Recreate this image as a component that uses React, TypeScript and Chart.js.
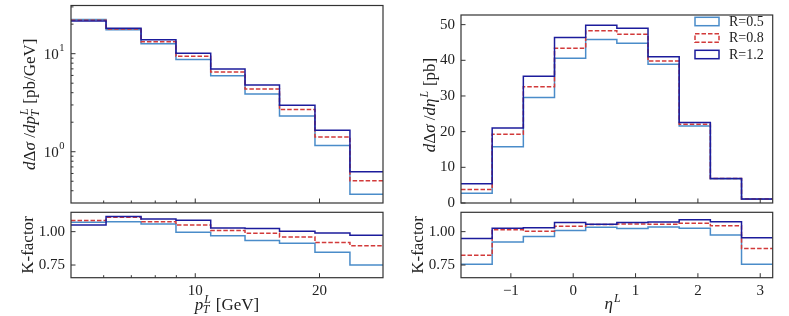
import React, { useEffect, useRef } from "react";
import { Chart, registerables } from "chart.js";

Chart.register(...registerables);

const W = 789;
const H = 316;

// ---------------- data ----------------
// transverse momentum bins (log-spaced), GeV
const ptEdges = [5.0, 6.08, 7.39, 8.98, 10.9, 13.2, 16.0, 19.5, 23.7, 28.5];
const ptXsecR05 = [22.3, 17.5, 12.6, 8.7, 5.97, 3.88, 2.32, 1.16, 0.369];
const ptXsecR08 = [21.9, 17.8, 13.2, 9.4, 6.5, 4.37, 2.69, 1.41, 0.507];
const ptXsecR12 = [21.5, 18.2, 13.9, 10.1, 6.97, 4.8, 2.98, 1.66, 0.625];
const ptKR05 = [1.07, 1.075, 1.058, 0.995, 0.97, 0.933, 0.913, 0.845, 0.75];
const ptKR08 = [1.083, 1.108, 1.075, 1.05, 1.008, 0.988, 0.96, 0.918, 0.895];
const ptKR12 = [1.05, 1.113, 1.095, 1.085, 1.028, 1.023, 1.003, 0.99, 0.973];

// pseudorapidity bins
const etaEdges = [-1.8, -1.3, -0.8, -0.3, 0.2, 0.7, 1.2, 1.7, 2.2, 2.7, 3.2];
const etaXsecR05 = [2.7, 15.8, 29.6, 40.6, 45.8, 44.8, 38.9, 21.6, 6.8, 1.05];
const etaXsecR08 = [3.8, 19.3, 32.6, 43.4, 48.3, 47.3, 39.8, 22.1, 6.85, 1.1];
const etaXsecR12 = [5.4, 21.05, 35.5, 46.4, 49.8, 49.0, 41.0, 22.6, 6.9, 1.15];
const etaKR05 = [0.755, 0.923, 0.963, 1.008, 1.033, 1.023, 1.035, 1.025, 0.975, 0.755];
const etaKR08 = [0.823, 1.015, 1.003, 1.04, 1.053, 1.058, 1.055, 1.063, 1.045, 0.873];
const etaKR12 = [0.948, 1.025, 1.03, 1.068, 1.055, 1.068, 1.073, 1.09, 1.075, 0.955];

const seriesLabels = ["R=0.5", "R=0.8", "R=1.2"];

// ticks
const ptMajorTicks = [10, 20];
const ptMinorTicks = [6, 7, 8, 9];
const xsecMajorTicks = [1, 10];
const xsecMinorTicks = [0.3, 0.4, 0.5, 0.6, 0.7, 0.8, 0.9, 2, 3, 4, 5, 6, 7, 8, 9, 20, 30];
const etaTicks = [-1, 0, 1, 2, 3];
const etaXsecTicks = [0, 10, 20, 30, 40, 50];
const kTicks = [0.75, 1.0];

// ---------------- style ----------------
const FONT = '"Liberation Serif", "DejaVu Serif", serif';
const TEXT = "#222222";
const COLORS = ["#4a8cc9", "#d23a3a", "#1c1c9c"];
const DASHES = [[], [4.5, 2], []];
const TICK_SIZE = 15;
const TITLE_SIZE = 17;

type Part = { t: string; it?: boolean; sub?: string; sup?: string };

function drawRich(ctx: CanvasRenderingContext2D, parts: Part[], x: number, y: number, size: number, rotate: boolean) {
  const f = (it: boolean, sz: number) => `${it ? "italic " : ""}${sz}px ${FONT}`;
  const ss = size * 0.7;
  const widths = parts.map((p) => {
    ctx.font = f(!!p.it, size);
    const w = ctx.measureText(p.t).width;
    ctx.font = f(true, ss);
    const w2 = Math.max(p.sub ? ctx.measureText(p.sub).width : 0, p.sup ? ctx.measureText(p.sup).width : 0);
    return [w, w2 ? w2 + 1.5 : 0];
  });
  const total = widths.reduce((s, [a, b]) => s + a + b, 0);
  ctx.save();
  ctx.translate(x, y);
  if (rotate) ctx.rotate(-Math.PI / 2);
  ctx.fillStyle = TEXT;
  ctx.textBaseline = "alphabetic";
  ctx.textAlign = "left";
  let cx = -total / 2;
  parts.forEach((p, i) => {
    ctx.font = f(!!p.it, size);
    ctx.fillText(p.t, cx, 0);
    cx += widths[i][0];
    if (p.sub || p.sup) {
      ctx.font = f(true, ss);
      if (p.sup) ctx.fillText(p.sup, cx + 1, -size * 0.4);
      if (p.sub) ctx.fillText(p.sub, cx - 0.5, size * 0.22);
      cx += widths[i][1];
    }
  });
  ctx.restore();
}

type Area = { l: number; t: number; r: number; b: number };
type Spec = {
  id: string;
  area: Area;
  xType: "linear" | "logarithmic";
  xMin: number;
  xMax: number;
  yType: "linear" | "logarithmic";
  yMin: number;
  yMax: number;
  edges: number[];
  series: number[][];
  xMajor: number[];
  xMinor: number[];
  yMajor: number[];
  yMinor: number[];
  xLabels: boolean;
  yLabels: boolean;
  xFmt?: (v: number) => string;
  yFmt?: (v: number) => string;
  extra?: (ctx: CanvasRenderingContext2D, chart: any) => void;
};

const leftTop: Area = { l: 71, t: 5.5, r: 383, b: 203 };
const leftBot: Area = { l: 71, t: 212.3, r: 383, b: 277.7 };
const rightTop: Area = { l: 461, t: 5.5, r: 772.7, b: 203 };
const rightBot: Area = { l: 461, t: 212.3, r: 772.7, b: 277.7 };

const etaFmt = (v: number) => (v < 0 ? "\u2212" + Math.abs(v) : String(v));

const specs: Spec[] = [
  {
    id: "ptx",
    area: leftTop,
    xType: "logarithmic",
    xMin: ptEdges[0],
    xMax: ptEdges[ptEdges.length - 1],
    yType: "logarithmic",
    yMin: 0.3,
    yMax: 31,
    edges: ptEdges,
    series: [ptXsecR05, ptXsecR08, ptXsecR12],
    xMajor: ptMajorTicks,
    xMinor: ptMinorTicks,
    yMajor: xsecMajorTicks,
    yMinor: xsecMinorTicks,
    xLabels: false,
    yLabels: false,
    extra: (ctx, chart) => {
      const ys = chart.scales.y;
      const a = chart.chartArea;
      ctx.fillStyle = TEXT;
      ctx.textAlign = "left";
      ctx.textBaseline = "middle";
      for (const v of xsecMajorTicks) {
        const py = ys.getPixelForValue(v);
        const exp = String(Math.round(Math.log10(v)));
        ctx.font = `10.5px ${FONT}`;
        const ew = ctx.measureText(exp).width;
        ctx.font = `${TICK_SIZE}px ${FONT}`;
        const bw = ctx.measureText("10").width;
        const xr = a.left - 7;
        ctx.fillText("10", xr - ew - bw, py + 1);
        ctx.font = `10.5px ${FONT}`;
        ctx.fillText(exp, xr - ew + 0.5, py - 5);
      }
      drawRich(
        ctx,
        [
          { t: "d", it: true },
          { t: "\u0394" },
          { t: "\u03c3", it: true },
          { t: " /" },
          { t: "dp", it: true, sub: "T", sup: "L" },
          { t: " [pb/GeV]" },
        ],
        35,
        (a.top + a.bottom) / 2,
        TITLE_SIZE,
        true
      );
    },
  },
  {
    id: "ptk",
    area: leftBot,
    xType: "logarithmic",
    xMin: ptEdges[0],
    xMax: ptEdges[ptEdges.length - 1],
    yType: "linear",
    yMin: 0.655,
    yMax: 1.145,
    edges: ptEdges,
    series: [ptKR05, ptKR08, ptKR12],
    xMajor: ptMajorTicks,
    xMinor: ptMinorTicks,
    yMajor: kTicks,
    yMinor: [],
    xLabels: true,
    yLabels: true,
    xFmt: (v) => String(v),
    yFmt: (v) => v.toFixed(2),
    extra: (ctx, chart) => {
      const a = chart.chartArea;
      drawRich(ctx, [{ t: "K-factor" }], 33, (a.top + a.bottom) / 2, TITLE_SIZE, true);
      drawRich(ctx, [{ t: "p", it: true, sub: "T", sup: "L" }, { t: " [GeV]" }], (a.left + a.right) / 2, 309.5, TITLE_SIZE, false);
    },
  },
  {
    id: "etax",
    area: rightTop,
    xType: "linear",
    xMin: etaEdges[0],
    xMax: etaEdges[etaEdges.length - 1],
    yType: "linear",
    yMin: 0,
    yMax: 52.7,
    edges: etaEdges,
    series: [etaXsecR05, etaXsecR08, etaXsecR12],
    xMajor: etaTicks,
    xMinor: [],
    yMajor: etaXsecTicks,
    yMinor: [],
    xLabels: false,
    yLabels: true,
    yFmt: (v) => String(v),
    extra: (ctx, chart) => {
      const a = chart.chartArea;
      drawRich(
        ctx,
        [
          { t: "d", it: true },
          { t: "\u0394" },
          { t: "\u03c3", it: true },
          { t: " /" },
          { t: "d\u03b7", it: true, sup: "L" },
          { t: " [pb]" },
        ],
        435,
        (a.top + a.bottom) / 2 - 4,
        TITLE_SIZE,
        true
      );
      // legend
      const rows = [21.5, 38, 54.5];
      seriesLabels.forEach((lab, k) => {
        ctx.save();
        ctx.strokeStyle = COLORS[k];
        ctx.lineWidth = 1.5;
        ctx.setLineDash(DASHES[k]);
        ctx.strokeRect(695, rows[k] - 4.2, 24, 8.4);
        ctx.restore();
        ctx.fillStyle = TEXT;
        ctx.font = `14px ${FONT}`;
        ctx.textAlign = "left";
        ctx.textBaseline = "middle";
        ctx.fillText(lab, 729, rows[k] + 0.5);
      });
    },
  },
  {
    id: "etak",
    area: rightBot,
    xType: "linear",
    xMin: etaEdges[0],
    xMax: etaEdges[etaEdges.length - 1],
    yType: "linear",
    yMin: 0.655,
    yMax: 1.145,
    edges: etaEdges,
    series: [etaKR05, etaKR08, etaKR12],
    xMajor: etaTicks,
    xMinor: [],
    yMajor: kTicks,
    yMinor: [],
    xLabels: true,
    yLabels: true,
    xFmt: etaFmt,
    yFmt: (v) => v.toFixed(2),
    extra: (ctx, chart) => {
      const a = chart.chartArea;
      drawRich(ctx, [{ t: "K-factor" }], 423, (a.top + a.bottom) / 2, TITLE_SIZE, true);
      drawRich(ctx, [{ t: "\u03b7", it: true, sup: "L" }], (a.left + a.right) / 2 - 4, 309, TITLE_SIZE, false);
    },
  },
];

function framePlugin(s: Spec) {
  return {
    id: "frame_" + s.id,
    afterDraw(chart: any) {
      const { ctx, chartArea: a, scales } = chart;
      const xs = scales.x;
      const ys = scales.y;
      ctx.save();
      ctx.strokeStyle = "#333333";
      ctx.lineWidth = 1;
      const line = (x1: number, y1: number, x2: number, y2: number) => {
        ctx.beginPath();
        ctx.moveTo(x1, y1);
        ctx.lineTo(x2, y2);
        ctx.stroke();
      };
      s.xMajor.forEach((v) => {
        const px = xs.getPixelForValue(v);
        line(px, a.bottom, px, a.bottom - 4.5);
      });
      s.xMinor.forEach((v) => {
        const px = xs.getPixelForValue(v);
        line(px, a.bottom, px, a.bottom - 2.5);
      });
      s.yMajor.forEach((v) => {
        const py = ys.getPixelForValue(v);
        line(a.left, py, a.left + 4.5, py);
      });
      s.yMinor.forEach((v) => {
        const py = ys.getPixelForValue(v);
        if (py > a.top && py < a.bottom) line(a.left, py, a.left + 2.5, py);
      });
      ctx.lineWidth = 1.2;
      ctx.strokeRect(a.left, a.top, a.right - a.left, a.bottom - a.top);
      ctx.restore();
      ctx.save();
      if (s.extra) s.extra(ctx, chart);
      ctx.restore();
    },
  };
}

function buildConfig(s: Spec): any {
  const yW = 40;
  const xH = s.xLabels ? 22 : 0;
  const tickFont = { family: FONT, size: TICK_SIZE };
  return {
    type: "line",
    data: {
      datasets: s.series.map((vals, k) => ({
        label: seriesLabels[k],
        data: s.edges.map((e, i) => ({ x: e, y: vals[Math.min(i, vals.length - 1)] })),
        borderColor: COLORS[k],
        borderWidth: 1.5,
        borderDash: DASHES[k],
        pointRadius: 0,
        stepped: "before",
        fill: false,
        order: 3 - k,
      })),
    },
    options: {
      animation: false,
      responsive: false,
      devicePixelRatio: 1,
      events: [],
      layout: {
        autoPadding: false,
        padding: { left: s.area.l - yW, top: s.area.t, right: W - s.area.r, bottom: H - s.area.b - xH },
      },
      plugins: { legend: { display: false }, tooltip: { enabled: false } },
      scales: {
        x: {
          type: s.xType,
          min: s.xMin,
          max: s.xMax,
          grid: { display: false, drawTicks: false },
          border: { display: false },
          afterBuildTicks: (sc: any) => {
            sc.ticks = s.xMajor.map((v) => ({ value: v }));
          },
          afterFit: (sc: any) => {
            sc.height = xH;
          },
          ticks: {
            display: s.xLabels,
            padding: 4,
            font: tickFont,
            color: TEXT,
            maxRotation: 0,
            autoSkip: false,
            callback: (v: number) => (s.xFmt ? s.xFmt(v) : ""),
          },
        },
        y: {
          type: s.yType,
          min: s.yMin,
          max: s.yMax,
          grid: { display: false, drawTicks: false },
          border: { display: false },
          afterBuildTicks: (sc: any) => {
            sc.ticks = s.yMajor.map((v) => ({ value: v }));
          },
          afterFit: (sc: any) => {
            sc.width = yW;
          },
          ticks: {
            display: s.yLabels,
            padding: 6,
            font: tickFont,
            color: TEXT,
            autoSkip: false,
            callback: (v: number) => (s.yFmt ? s.yFmt(v) : ""),
          },
        },
      },
    },
    plugins: [framePlugin(s)],
  };
}

export default function App() {
  const canvases = useRef<(HTMLCanvasElement | null)[]>([]);
  useEffect(() => {
    const charts = specs.map((s, i) => new Chart(canvases.current[i] as HTMLCanvasElement, buildConfig(s)));
    return () => charts.forEach((c) => c.destroy());
  }, []);
  return (
    <div style={{ position: "fixed", left: 0, top: 0, width: W, height: H, background: "#ffffff" }}>
      {specs.map((s, i) => (
        <canvas
          key={s.id}
          ref={(el) => {
            canvases.current[i] = el;
          }}
          width={W}
          height={H}
          style={{ position: "absolute", left: 0, top: 0, width: W, height: H }}
        />
      ))}
    </div>
  );
}
